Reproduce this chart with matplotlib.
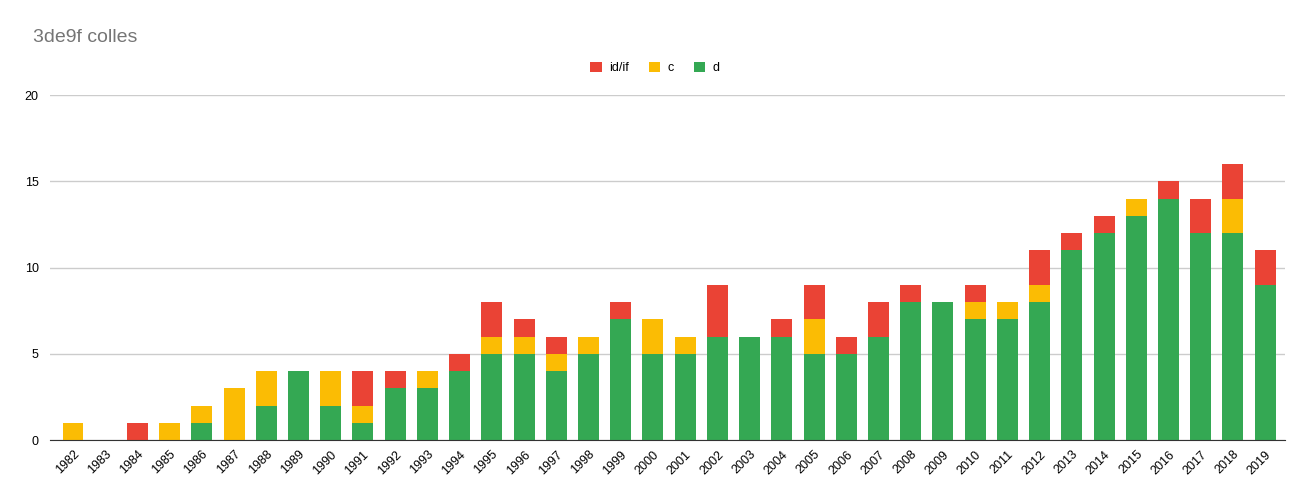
import matplotlib
matplotlib.use('Agg')
import matplotlib.pyplot as plt
import numpy as np

plt.rcParams['font.family'] = ['Liberation Sans', 'DejaVu Sans']

# 数据
YEARS = [str(y) for y in range(1982, 2020)]
D_VALS = [0, 0, 0, 0, 1, 0, 2, 4, 2, 1, 3, 3, 4, 5, 5, 4, 5, 7, 5, 5,
          6, 6, 6, 5, 5, 6, 8, 8, 7, 7, 8, 11, 12, 13, 14, 12, 12, 9]
C_VALS = [1, 0, 0, 1, 1, 3, 2, 0, 2, 1, 0, 1, 0, 1, 1, 1, 1, 0, 2, 1,
          0, 0, 0, 2, 0, 0, 0, 0, 1, 1, 1, 0, 0, 1, 0, 0, 2, 0]
IDIF_VALS = [0, 0, 1, 0, 0, 0, 0, 0, 0, 2, 1, 0, 1, 2, 1, 1, 0, 1, 0, 0,
             3, 0, 1, 2, 1, 2, 1, 0, 1, 0, 2, 1, 1, 0, 1, 2, 2, 2]

COLORS = {'d': '#34A853', 'c': '#FBBC04', 'id/if': '#EA4335'}


def plot_graph(save_path='out.png'):
    fig = plt.figure(figsize=(13.1, 4.95), dpi=100)
    ax = fig.add_axes([0.038, 0.111, 0.943, 0.697])

    x = np.arange(len(YEARS))
    d = np.array(D_VALS)
    c = np.array(C_VALS)
    r = np.array(IDIF_VALS)
    w = 0.65

    ax.bar(x, d, width=w, color=COLORS['d'], label='d', zorder=3)
    ax.bar(x, c, width=w, bottom=d, color=COLORS['c'], label='c', zorder=3)
    ax.bar(x, r, width=w, bottom=d + c, color=COLORS['id/if'], label='id/if', zorder=3)

    ax.set_xlim(-0.72, len(YEARS) - 0.38)
    ax.set_ylim(0, 20)
    ax.set_yticks([0, 5, 10, 15, 20])
    ax.set_xticks(x)
    ax.set_xticklabels(YEARS, rotation=45, ha='right', rotation_mode='anchor', fontsize=9)
    ax.tick_params(axis='x', length=0, pad=6)
    ax.tick_params(axis='y', length=0, pad=8, labelsize=9)
    ax.grid(True, axis='y', color='#cccccc', linewidth=1, zorder=0)

    for s in ['top', 'right', 'left']:
        ax.spines[s].set_visible(False)
    ax.spines['bottom'].set_color('#333333')
    ax.spines['bottom'].set_zorder(4)

    # 图例 (顺序: id/if, c, d)
    handles, labels = ax.get_legend_handles_labels()
    order = [2, 1, 0]
    fig.legend([handles[i] for i in order], [labels[i] for i in order],
               loc='center', bbox_to_anchor=(0.5, 0.863), ncol=3, frameon=False,
               fontsize=9, handlelength=0.9, handleheight=0.9,
               columnspacing=1.6, handletextpad=0.6)

    fig.text(0.025, 0.925, '3de9f colles', fontsize=14, color='#757575', va='center')

    fig.savefig(save_path, dpi=100)
    plt.close(fig)


if __name__ == "__main__":
    plot_graph('out.png')
